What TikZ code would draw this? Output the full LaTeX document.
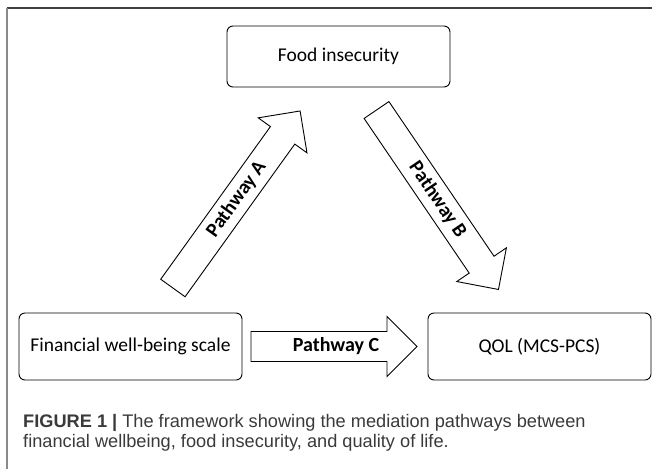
\documentclass[tikz,border=0pt]{standalone}
\usepackage{fontspec}
\usepackage{tikz}
\newfontfamily\boxfont{Carlito}
\newfontfamily\capfont{Liberation Sans}
\definecolor{framegray}{HTML}{8A8A8A}
\definecolor{captext}{HTML}{3A3A3A}

\begin{document}
\begin{tikzpicture}[x=1pt, y=-1pt,
    var_node/.style={draw, rounded corners=6pt, line width=0.9pt, minimum width=223pt, minimum height=67pt, inner sep=0pt, font=\boxfont\fontsize{19.5}{23}\selectfont},
    path_arrow/.style={draw, line width=0.9pt, fill=white},
    path_label/.style={inner sep=0pt, font=\boxfont\bfseries\fontsize{20}{24}\selectfont},
    cap_line/.style={anchor=base west, inner sep=0pt, text=captext, font=\capfont\fontsize{18.2}{20}\selectfont}]

    \useasboundingbox (0,0) rectangle (652,469);
    % frame
    \draw[line width=2pt, black!75] (7,8) -- (652,8);
    \draw[line width=1.2pt, framegray] (7,8) -- (7,469);

    % variables
    \node[var_node, minimum height=61pt] (food) at (338.5,56.5) {Food insecurity};
    \node[var_node] (fin)  at (130.5,346.5) {Financial well-being scale};
    \node[var_node] (qol)  at (539.5,346.5) {QOL (MCS-PCS)};

    % pathway A
    \begin{scope}[shift={(172.9,288)}, rotate=54.3]
      \draw[path_arrow] (0,-15) -- (188,-15) -- (188,-30) -- (218,0) -- (188,30) -- (188,15) -- (0,15) -- cycle;
      \node[path_label, rotate=54.3] (pa) at (109,0) {Pathway A};
    \end{scope}
    % pathway B
    \begin{scope}[shift={(376.5,110)}, rotate=-55.8]
      \draw[path_arrow] (0,-15) -- (187,-15) -- (187,-30) -- (217,0) -- (187,30) -- (187,15) -- (0,15) -- cycle;
      \node[path_label, rotate=-55.8] (pb) at (108.5,0) {Pathway B};
    \end{scope}
    % pathway C
    \begin{scope}[shift={(251,346.5)}]
      \draw[path_arrow] (0,-15) -- (136,-15) -- (136,-30) -- (166,0) -- (136,30) -- (136,15) -- (0,15) -- cycle;
      \node[path_label] (pc) at (85,0) {Pathway C};
    \end{scope}

    % caption
    \node[cap_line] (cap1) at (23,427) {\textbf{FIGURE 1 |} The framework showing the mediation pathways between};
    \node[cap_line] (cap2) at (23,447) {financial wellbeing, food insecurity, and quality of life.};

\end{tikzpicture}
\end{document}
